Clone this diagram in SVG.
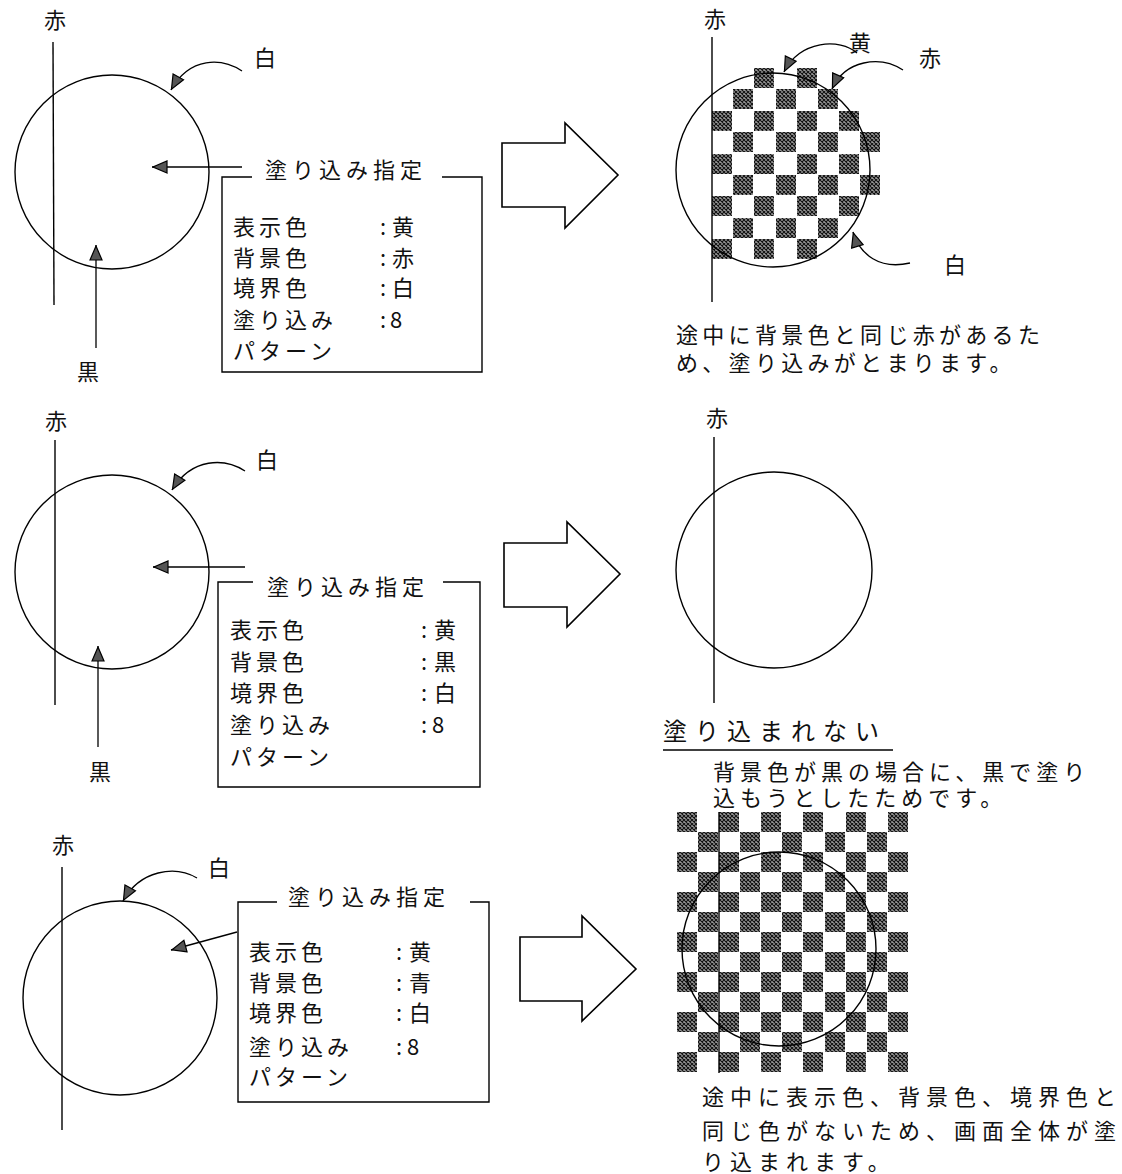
<svg xmlns="http://www.w3.org/2000/svg" width="1122" height="1174" viewBox="0 0 1122 1174">
<style>
text{font-family:"Noto Sans CJK JP","Noto Sans CJK SC",sans-serif;fill:#111;font-size:22px}
.lb{text-anchor:middle}
.bx{letter-spacing:4px}
.tt{letter-spacing:5px}
.ln{fill:none;stroke:#000;stroke-width:1.4}
.ar{fill:#fff;stroke:#000;stroke-width:1.6}
.cn{fill:none;stroke:#000;stroke-width:1.3}
.hs{fill:url(#hatch)}
</style>
<defs>
<pattern id="hatch" width="4" height="4" patternUnits="userSpaceOnUse">
<rect width="4" height="4" fill="#999"/>
<path d="M0,0 L4,4 M4,0 L0,4" stroke="#111" stroke-width="1.1"/>
</pattern>
<marker id="ah" viewBox="0 0 16 14" refX="16" refY="7" markerWidth="16" markerHeight="14" markerUnits="userSpaceOnUse" orient="auto">
<path d="M1,1 L15,7 L1,13 z" fill="#555" stroke="#000" stroke-width="1.2"/>
</marker>
</defs>

<!-- Panel 1 -->
<g id="panel1">
<text class="lb" x="55" y="28">赤</text>
<line class="ln" x1="53" y1="42" x2="54" y2="305"/>
<circle class="ln" cx="112" cy="172" r="97"/>
<text class="lb" x="265" y="66">白</text>
<text class="lb" x="88" y="380">黒</text>
</g>
<g id="box1">
<path class="ln" d="M252,177 H222 V372 H482 V177 H442"/>
<text class="tt" x="265" y="178">塗り込み指定</text>
<text class="bx" x="233" y="235">表示色</text>
<text class="bx" x="233" y="266">背景色</text>
<text class="bx" x="233" y="296">境界色</text>
<text class="bx" x="233" y="328">塗り込み</text>
<text class="bx" x="233" y="359">パターン</text>
<text x="380" y="235">:</text><text x="392" y="235">黄</text>
<text x="380" y="266">:</text><text x="392" y="266">赤</text>
<text x="380" y="296">:</text><text x="392" y="296">白</text>
<text x="380" y="328">:</text><text x="390" y="328">8</text>
</g>
<g id="bigarrow1"><path class="ar" d="M502,143 H565 V123 L618,175 L565,228 V207 H502 Z"/></g>

<!-- Panel 2 -->
<g id="panel2">
<g id="checker1">
<rect class="hs" x="754" y="68" width="20" height="20"/><rect class="hs" x="797" y="68" width="20" height="20"/>
<rect class="hs" x="733" y="89" width="20" height="20"/><rect class="hs" x="776" y="89" width="20" height="20"/><rect class="hs" x="818" y="89" width="20" height="20"/>
<rect class="hs" x="712" y="111" width="20" height="20"/><rect class="hs" x="754" y="111" width="20" height="20"/><rect class="hs" x="797" y="111" width="20" height="20"/><rect class="hs" x="839" y="111" width="20" height="20"/>
<rect class="hs" x="733" y="132" width="20" height="20"/><rect class="hs" x="776" y="132" width="20" height="20"/><rect class="hs" x="818" y="132" width="20" height="20"/><rect class="hs" x="860" y="132" width="20" height="20"/>
<rect class="hs" x="712" y="154" width="20" height="20"/><rect class="hs" x="754" y="154" width="20" height="20"/><rect class="hs" x="797" y="154" width="20" height="20"/><rect class="hs" x="839" y="154" width="20" height="20"/>
<rect class="hs" x="733" y="175" width="20" height="20"/><rect class="hs" x="776" y="175" width="20" height="20"/><rect class="hs" x="818" y="175" width="20" height="20"/><rect class="hs" x="860" y="175" width="20" height="20"/>
<rect class="hs" x="712" y="196" width="20" height="20"/><rect class="hs" x="754" y="196" width="20" height="20"/><rect class="hs" x="797" y="196" width="20" height="20"/><rect class="hs" x="839" y="196" width="20" height="20"/>
<rect class="hs" x="733" y="218" width="20" height="20"/><rect class="hs" x="776" y="218" width="20" height="20"/><rect class="hs" x="818" y="218" width="20" height="20"/>
<rect class="hs" x="712" y="239" width="20" height="20"/><rect class="hs" x="754" y="239" width="20" height="20"/><rect class="hs" x="797" y="239" width="20" height="20"/>
</g>
<text class="lb" x="715" y="27">赤</text>
<line class="ln" x1="712" y1="37" x2="712" y2="302"/>
<circle class="ln" cx="773" cy="170" r="97"/>
<text class="lb" x="860" y="51">黄</text>
<text class="lb" x="930" y="66">赤</text>
<text class="lb" x="955" y="273">白</text>
<text x="676" y="343" style="letter-spacing:4.3px">途中に背景色と同じ赤があるた</text>
<text x="676" y="371" style="letter-spacing:4.3px">め、塗り込みがとまります。</text>
</g>

<!-- Panel 3 -->
<g id="panel3">
<text class="lb" x="56" y="429">赤</text>
<line class="ln" x1="55" y1="440" x2="55" y2="705"/>
<circle class="ln" cx="112" cy="572" r="97"/>
<text class="lb" x="267" y="468">白</text>
<text class="lb" x="100" y="780">黒</text>
</g>
<g id="box2">
<path class="ln" d="M253,582 H218 V787 H480 V582 H443"/>
<text class="tt" x="267" y="595">塗り込み指定</text>
<text class="bx" x="230" y="638">表示色</text>
<text class="bx" x="230" y="670">背景色</text>
<text class="bx" x="230" y="701">境界色</text>
<text class="bx" x="230" y="733">塗り込み</text>
<text class="bx" x="230" y="765">パターン</text>
<text x="421" y="638">:</text><text x="434" y="638">黄</text>
<text x="421" y="670">:</text><text x="434" y="670">黒</text>
<text x="421" y="701">:</text><text x="434" y="701">白</text>
<text x="421" y="733">:</text><text x="432" y="733">8</text>
</g>
<g id="bigarrow2"><path class="ar" d="M504,543 H567 V522 L620,574 L567,627 V607 H504 Z"/></g>

<!-- Panel 4 -->
<g id="panel4">
<text class="lb" x="717" y="426">赤</text>
<line class="ln" x1="714" y1="437" x2="714" y2="703"/>
<circle class="ln" cx="774" cy="570" r="98"/>
<text x="663" y="740" style="font-size:24px;letter-spacing:8px">塗り込まれない</text>
<line class="ln" x1="663" y1="750" x2="893" y2="750"/>
<text x="713" y="780" style="letter-spacing:5px">背景色が黒の場合に、黒で塗り</text>
<text x="713" y="806" style="letter-spacing:5px">込もうとしたためです。</text>
</g>

<!-- Panel 5 -->
<g id="panel5">
<text class="lb" x="63" y="853">赤</text>
<line class="ln" x1="62" y1="867" x2="62" y2="1130"/>
<circle class="ln" cx="120" cy="998" r="97"/>
<text class="lb" x="219" y="876">白</text>
</g>
<g id="box3">
<path class="ln" d="M277,902 H238 V1102 H489 V902 H470"/>
<text class="tt" x="288" y="905">塗り込み指定</text>
<text class="bx" x="249" y="960">表示色</text>
<text class="bx" x="249" y="991">背景色</text>
<text class="bx" x="249" y="1021">境界色</text>
<text class="bx" x="249" y="1055">塗り込み</text>
<text class="bx" x="249" y="1085">パターン</text>
<text x="396" y="960">:</text><text x="409" y="960">黄</text>
<text x="396" y="991">:</text><text x="409" y="991">青</text>
<text x="396" y="1021">:</text><text x="409" y="1021">白</text>
<text x="396" y="1055">:</text><text x="407" y="1055">8</text>
</g>
<g id="bigarrow3"><path class="ar" d="M520,937 H582 V916 L636,969 L582,1021 V1001 H520 Z"/></g>

<!-- Panel 6 -->
<g id="panel6">
<g id="checker2">
<rect class="hs" x="677" y="812" width="20" height="20"/><rect class="hs" x="719" y="812" width="20" height="20"/><rect class="hs" x="761" y="812" width="20" height="20"/><rect class="hs" x="803" y="812" width="20" height="20"/><rect class="hs" x="846" y="812" width="20" height="20"/><rect class="hs" x="888" y="812" width="20" height="20"/>
<rect class="hs" x="698" y="832" width="20" height="20"/><rect class="hs" x="740" y="832" width="20" height="20"/><rect class="hs" x="782" y="832" width="20" height="20"/><rect class="hs" x="825" y="832" width="20" height="20"/><rect class="hs" x="867" y="832" width="20" height="20"/>
<rect class="hs" x="677" y="852" width="20" height="20"/><rect class="hs" x="719" y="852" width="20" height="20"/><rect class="hs" x="761" y="852" width="20" height="20"/><rect class="hs" x="803" y="852" width="20" height="20"/><rect class="hs" x="846" y="852" width="20" height="20"/><rect class="hs" x="888" y="852" width="20" height="20"/>
<rect class="hs" x="698" y="872" width="20" height="20"/><rect class="hs" x="740" y="872" width="20" height="20"/><rect class="hs" x="782" y="872" width="20" height="20"/><rect class="hs" x="825" y="872" width="20" height="20"/><rect class="hs" x="867" y="872" width="20" height="20"/>
<rect class="hs" x="677" y="892" width="20" height="20"/><rect class="hs" x="719" y="892" width="20" height="20"/><rect class="hs" x="761" y="892" width="20" height="20"/><rect class="hs" x="803" y="892" width="20" height="20"/><rect class="hs" x="846" y="892" width="20" height="20"/><rect class="hs" x="888" y="892" width="20" height="20"/>
<rect class="hs" x="698" y="912" width="20" height="20"/><rect class="hs" x="740" y="912" width="20" height="20"/><rect class="hs" x="782" y="912" width="20" height="20"/><rect class="hs" x="825" y="912" width="20" height="20"/><rect class="hs" x="867" y="912" width="20" height="20"/>
<rect class="hs" x="677" y="932" width="20" height="20"/><rect class="hs" x="719" y="932" width="20" height="20"/><rect class="hs" x="761" y="932" width="20" height="20"/><rect class="hs" x="803" y="932" width="20" height="20"/><rect class="hs" x="846" y="932" width="20" height="20"/><rect class="hs" x="888" y="932" width="20" height="20"/>
<rect class="hs" x="698" y="952" width="20" height="20"/><rect class="hs" x="740" y="952" width="20" height="20"/><rect class="hs" x="782" y="952" width="20" height="20"/><rect class="hs" x="825" y="952" width="20" height="20"/><rect class="hs" x="867" y="952" width="20" height="20"/>
<rect class="hs" x="677" y="972" width="20" height="20"/><rect class="hs" x="719" y="972" width="20" height="20"/><rect class="hs" x="761" y="972" width="20" height="20"/><rect class="hs" x="803" y="972" width="20" height="20"/><rect class="hs" x="846" y="972" width="20" height="20"/><rect class="hs" x="888" y="972" width="20" height="20"/>
<rect class="hs" x="698" y="992" width="20" height="20"/><rect class="hs" x="740" y="992" width="20" height="20"/><rect class="hs" x="782" y="992" width="20" height="20"/><rect class="hs" x="825" y="992" width="20" height="20"/><rect class="hs" x="867" y="992" width="20" height="20"/>
<rect class="hs" x="677" y="1012" width="20" height="20"/><rect class="hs" x="719" y="1012" width="20" height="20"/><rect class="hs" x="761" y="1012" width="20" height="20"/><rect class="hs" x="803" y="1012" width="20" height="20"/><rect class="hs" x="846" y="1012" width="20" height="20"/><rect class="hs" x="888" y="1012" width="20" height="20"/>
<rect class="hs" x="698" y="1032" width="20" height="20"/><rect class="hs" x="740" y="1032" width="20" height="20"/><rect class="hs" x="782" y="1032" width="20" height="20"/><rect class="hs" x="825" y="1032" width="20" height="20"/><rect class="hs" x="867" y="1032" width="20" height="20"/>
<rect class="hs" x="677" y="1052" width="20" height="20"/><rect class="hs" x="719" y="1052" width="20" height="20"/><rect class="hs" x="761" y="1052" width="20" height="20"/><rect class="hs" x="803" y="1052" width="20" height="20"/><rect class="hs" x="846" y="1052" width="20" height="20"/><rect class="hs" x="888" y="1052" width="20" height="20"/>
</g>
<line class="ln" x1="719" y1="812" x2="719" y2="1073"/>
<circle class="ln" cx="779" cy="949" r="97"/>
<text x="702" y="1105" style="letter-spacing:6px">途中に表示色、背景色、境界色と</text>
<text x="702" y="1139" style="letter-spacing:6px">同じ色がないため、画面全体が塗</text>
<text x="702" y="1170" style="letter-spacing:6px">り込まれます。</text>
</g>

<!-- Connectors -->
<g id="connectors">
<path class="cn" d="M242,71 C222,58 190,56 171,90" marker-end="url(#ah)"/>
<line class="cn" x1="242" y1="167" x2="152" y2="167" marker-end="url(#ah)"/>
<line class="cn" x1="96" y1="348" x2="96" y2="245" marker-end="url(#ah)"/>
<path class="cn" d="M857,53 C840,38 800,40 784,72" marker-end="url(#ah)"/>
<path class="cn" d="M903,70 C880,55 845,60 832,89" marker-end="url(#ah)"/>
<path class="cn" d="M910,263 C880,270 860,255 853,232" marker-end="url(#ah)"/>
<path class="cn" d="M245,471 C225,458 192,457 172,490" marker-end="url(#ah)"/>
<line class="cn" x1="245" y1="567" x2="153" y2="567" marker-end="url(#ah)"/>
<line class="cn" x1="98" y1="747" x2="98" y2="646" marker-end="url(#ah)"/>
<path class="cn" d="M197,878 C175,865 140,870 123,901" marker-end="url(#ah)"/>
<line class="cn" x1="237" y1="932" x2="171" y2="950" marker-end="url(#ah)"/>
</g>
</svg>
